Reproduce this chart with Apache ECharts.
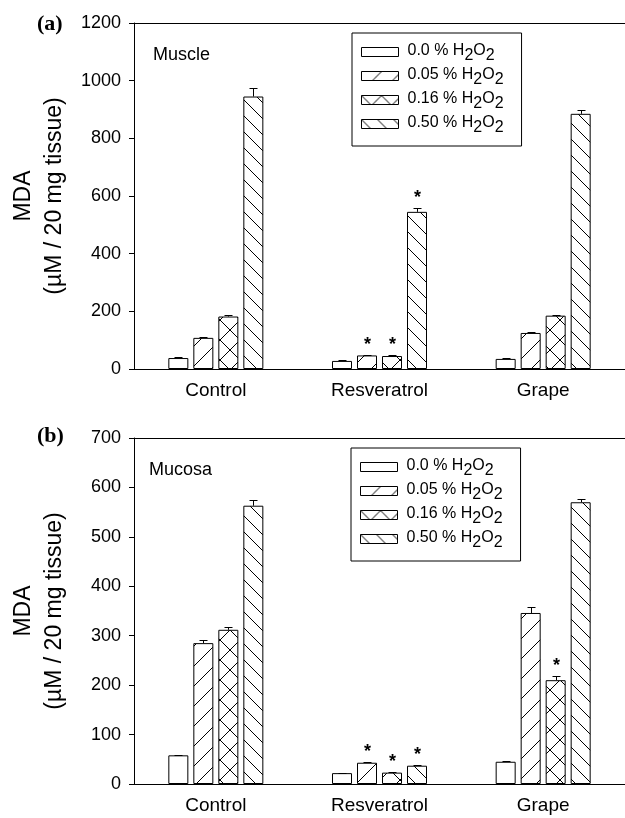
<!DOCTYPE html>
<html>
<head>
<meta charset="utf-8">
<script src="https://cdn.jsdelivr.net/npm/echarts@6/dist/echarts.min.js"></script>
<style>
html, body { margin: 0; background: #fff; }
#main { width: 625px; height: 818px; }
</style>
</head>
<body>
<div id="main"></div>
<script>
const categories = ['Control', 'Resveratrol', 'Grape'];
const doses = ['0.0 %', '0.05 %', '0.16 %', '0.50 %'];

// one row per dose, one column per category
const muscleMean = [[38, 28, 35], [108, 47, 125], [182, 45, 185], [945, 545, 885]];
const muscleErr = [[2, 2, 2], [2, 2, 2], [5, 3, 3], [30, 12, 12]];
const muscleStar = [[0, 0, 0], [0, 1, 0], [0, 1, 0], [0, 1, 0]];
const muscleAxis = [0, 1200, 200];

const mucosaMean = [[58, 22, 45], [285, 43, 346], [312, 23, 210], [563, 37, 570]];
const mucosaErr = [[1, 1, 1], [7, 2, 12], [5, 1, 9], [12, 1, 6]];
const mucosaStar = [[0, 0, 0], [0, 1, 0], [0, 1, 1], [0, 1, 0]];
const mucosaAxis = [0, 700, 100];

const FONT = 'Liberation Sans';

// hatch tiles for the bar fills
function hatch(dirs, p) {
    const c = document.createElement('canvas');
    c.width = c.height = p;
    const g = c.getContext('2d');
    g.fillStyle = '#fff';
    g.fillRect(0, 0, p, p);
    g.strokeStyle = '#000';
    g.lineWidth = 1;
    g.beginPath();
    if (dirs.indexOf('/') >= 0) { g.moveTo(-1, p + 1); g.lineTo(p + 1, -1); }
    if (dirs.indexOf('\\') >= 0) { g.moveTo(-1, -1); g.lineTo(p + 1, p + 1); }
    g.stroke();
    return { image: c, repeat: 'repeat' };
}
const fills = ['#fff', hatch('/', 20), hatch('/\\', 20), hatch('\\', 16)];

function barSeries(means, gi) {
    return means.map((row, s) => ({
        name: doses[s],
        type: 'bar',
        xAxisIndex: gi * 2,
        yAxisIndex: gi,
        barWidth: 20,
        barGap: '25%',
        itemStyle: { color: fills[s], borderColor: '#000', borderWidth: 1 },
        data: row
    }));
}

// error bars (upper half) plus the significance stars above them
function errorSeries(means, errs, stars, gi) {
    const data = [];
    means.forEach((row, s) => row.forEach((v, c) => data.push([c, v, v + errs[s][c], s, stars[s][c]])));
    return {
        type: 'custom',
        xAxisIndex: gi * 2,
        yAxisIndex: gi,
        silent: true,
        z: 3,
        encode: { x: 0, y: 2 },
        data,
        renderItem(params, api) {
            const top = api.coord([api.value(0), api.value(2)]);
            const base = api.coord([api.value(0), api.value(1)]);
            const x = Math.round(top[0] + (api.value(3) - 1.5) * 25) + 0.5;
            const yt = Math.round(top[1]) + 0.5;
            const kids = [
                { type: 'line', shape: { x1: x, y1: base[1], x2: x, y2: yt }, style: { stroke: '#000', lineWidth: 1 } },
                { type: 'line', shape: { x1: x - 4, y1: yt, x2: x + 4, y2: yt }, style: { stroke: '#000', lineWidth: 1 } }
            ];
            if (api.value(4)) {
                kids.push({
                    type: 'text', x: x, y: yt - 10,
                    style: { text: '*', font: 'bold 18px "Liberation Sans"', fill: '#000', align: 'center', verticalAlign: 'middle' }
                });
            }
            return { type: 'group', children: kids };
        }
    };
}

function xAxes(gi) {
    return [{
        type: 'category', gridIndex: gi, data: categories,
        axisLine: { lineStyle: { color: '#000', width: 1 } },
        axisTick: { alignWithLabel: true, length: 5, lineStyle: { color: '#000' } },
        axisLabel: { fontSize: 19, fontFamily: FONT, color: '#000', margin: 12 }
    }, {
        type: 'category', gridIndex: gi, data: categories, position: 'top',
        axisLine: { lineStyle: { color: '#000', width: 1 } },
        axisTick: { show: false }, axisLabel: { show: false }
    }];
}

function yAxis(gi, ax) {
    return {
        type: 'value', gridIndex: gi, min: ax[0], max: ax[1], interval: ax[2],
        name: 'MDA\n(\u00b5M / 20 mg tissue)',
        nameLocation: 'middle', nameGap: 64,
        nameTextStyle: { fontSize: 23, fontFamily: FONT, color: '#000', lineHeight: 31 },
        axisLine: { show: true, lineStyle: { color: '#000', width: 1 } },
        axisTick: { show: true, length: 5, lineStyle: { color: '#000' } },
        splitLine: { show: false },
        axisLabel: { fontSize: 18, fontFamily: FONT, color: '#000', margin: 13, formatter: v => String(v) }
    };
}

function legend(left, top) {
    return {
        left, top, orient: 'vertical', data: doses, selectedMode: false,
        icon: 'rect', itemWidth: 37, itemHeight: 9, itemGap: 3,
        itemStyle: { borderWidth: 1, borderColor: '#000' },
        borderColor: '#000', borderWidth: 1, padding: [10, 18, 10, 9],
        formatter: n => `{p|}{t|${n} H}{s|2}{t|O}{s|2}`,
        textStyle: {
            color: '#000', fontFamily: FONT,
            rich: {
                p: { width: 4, lineHeight: 18 },
                t: { fontSize: 16, fontFamily: FONT, color: '#000', lineHeight: 18, verticalAlign: 'top' },
                s: { fontSize: 16, fontFamily: FONT, color: '#000', lineHeight: 18, verticalAlign: 'top', padding: [5, 0, 0, 0] }
            }
        }
    };
}

const chart = echarts.init(document.getElementById('main'));
chart.setOption({
    backgroundColor: '#fff',
    animation: false,
    grid: [
        { left: 133, right: -6, top: 23, bottom: 449 },
        { left: 133, right: -6, top: 438, bottom: 34 }
    ],
    xAxis: [...xAxes(0), ...xAxes(1)],
    yAxis: [yAxis(0, muscleAxis), yAxis(1, mucosaAxis)],
    legend: [legend(352, 33), legend(351, 448)],
    graphic: [
        { type: 'text', left: 37, top: 13, style: { text: '(a)', font: 'bold 22px "Liberation Serif"', fill: '#000' } },
        { type: 'text', left: 153, top: 46, style: { text: 'Muscle', font: '18px "Liberation Sans"', fill: '#000' } },
        { type: 'text', left: 37, top: 425, style: { text: '(b)', font: 'bold 22px "Liberation Serif"', fill: '#000' } },
        { type: 'text', left: 149, top: 461, style: { text: 'Mucosa', font: '18px "Liberation Sans"', fill: '#000' } }
    ],
    series: [
        ...barSeries(muscleMean, 0),
        errorSeries(muscleMean, muscleErr, muscleStar, 0),
        ...barSeries(mucosaMean, 1),
        errorSeries(mucosaMean, mucosaErr, mucosaStar, 1)
    ]
});
</script>
</body>
</html>
